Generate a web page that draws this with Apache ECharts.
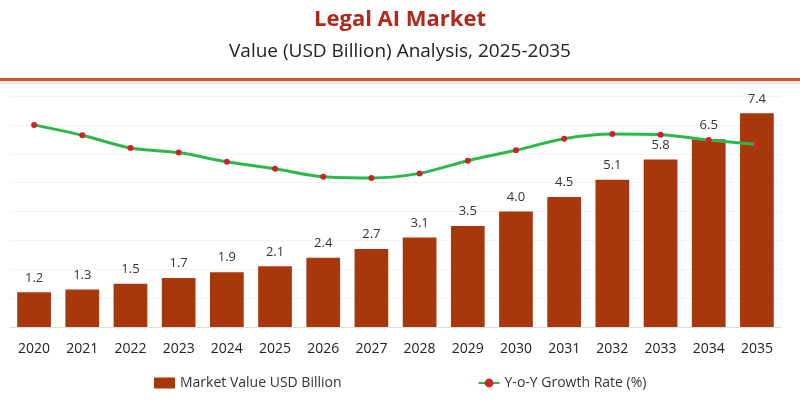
<!DOCTYPE html>
<html><head><meta charset="utf-8">
<script src="https://cdn.jsdelivr.net/npm/echarts@6/dist/echarts.min.js"></script>
<style>html,body{margin:0;padding:0;background:#fff}#c{width:800px;height:400px}</style>
</head><body><div id="c"></div>
<script>
const years = ['2020','2021','2022','2023','2024','2025','2026','2027','2028','2029','2030','2031','2032','2033','2034','2035'];
const marketValue = [1.2,1.3,1.5,1.7,1.9,2.1,2.4,2.7,3.1,3.5,4.0,4.5,5.1,5.8,6.5,7.4];
const growthRate = [17.5,16.6,15.5,15.1,14.3,13.7,13.0,12.9,13.3,14.4,15.3,16.3,16.7,16.65,16.2,15.8];
const labels = ['1.2','1.3','1.5','1.7','1.9','2.1','2.4','2.7','3.1','3.5','4.0','4.5','5.1','5.8','6.5','7.4'];

const chart = echarts.init(document.getElementById('c'));
const FONT = '"Open Sans", "Noto Sans", sans-serif';
chart.setOption({
  animation:false,
  textStyle:{fontFamily:FONT},
  title:[
    {text:'Legal AI Market',left:'center',top:4,textStyle:{color:'#b3261a',fontSize:22,fontWeight:'bold',fontFamily:FONT}},
    {text:'Value (USD Billion) Analysis, 2025-2035',left:'center',top:37,textStyle:{color:'#222',fontSize:19,fontWeight:'normal',fontFamily:FONT}}
  ],
  graphic:[
    {type:'rect',left:0,top:78,shape:{width:800,height:3},style:{fill:'#d4532f'}},
    {type:'rect',left:0,top:81,shape:{width:800,height:3},style:{fill:'rgba(212,83,47,0.15)'}}
  ],
  legend:{
    left:149, top:371, itemGap:136, itemWidth:21, itemHeight:11,
    textStyle:{color:'#333',fontSize:14,fontFamily:FONT},
    data:[{name:'Market Value USD Billion',icon:'rect'},{name:'Y-o-Y Growth Rate (%)'}]
  },
  grid:{left:10,right:19,top:96,bottom:73,containLabel:false},
  xAxis:{type:'category',data:years,
    axisLine:{lineStyle:{color:'#ddd'}},axisTick:{lineStyle:{color:'#ddd'}},
    axisLabel:{color:'#222',fontSize:14,margin:15,fontFamily:FONT}},
  yAxis:[
    {type:'value',min:0,max:8,interval:1,show:true,axisLine:{show:false},axisLabel:{show:false},axisTick:{show:false},
      splitLine:{lineStyle:{color:'#f3f3f3'}}},
    {type:'value',min:0,max:20,show:false,splitLine:{show:false}}
  ],
  series:[
    {name:'Market Value USD Billion',type:'bar',data:marketValue,barWidth:'70%',
      itemStyle:{color:'#a8380c'},
      label:{show:true,position:'top',distance:8,color:'#333',fontSize:13,fontFamily:FONT,
        formatter:p=>labels[p.dataIndex]}},
    {name:'Y-o-Y Growth Rate (%)',type:'line',yAxisIndex:1,data:growthRate,smooth:0.3,
      lineStyle:{color:'#2db84b',width:3},itemStyle:{color:'#c9262a'},
      symbol:'circle',symbolSize:6,z:5}
  ]
});
</script></body></html>
